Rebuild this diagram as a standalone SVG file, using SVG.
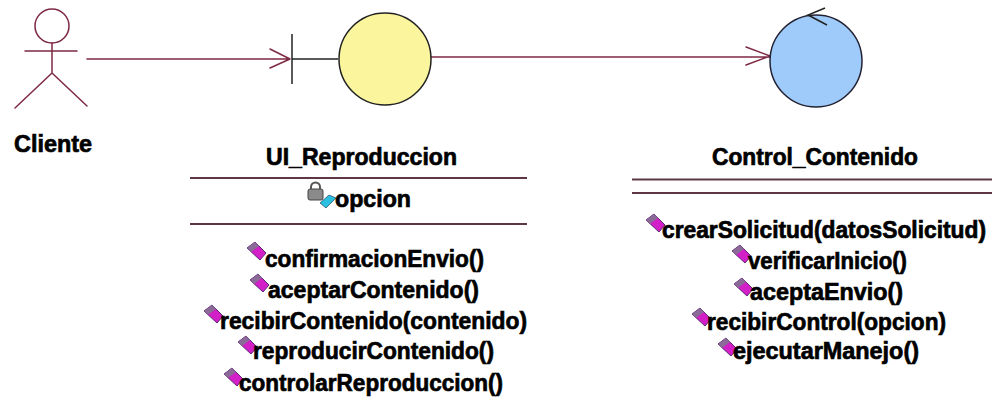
<svg xmlns="http://www.w3.org/2000/svg" width="993" height="400" viewBox="0 0 993 400">
<style>
.m{fill:none;stroke:#7d2a44;stroke-width:1.5;stroke-linecap:round;stroke-linejoin:round}
.k{fill:none;stroke:#222;stroke-width:1.5}
.sep{stroke:#5e3644;stroke-width:1.8;fill:none}
text{font-family:"Liberation Sans",Arial,sans-serif;font-weight:bold;fill:#000;stroke:#000;stroke-width:.7;font-size:24px}
</style>
<defs>
<g id="op"><polygon points="0,6 8,0 19,11 13,18" fill="#d21fc8" stroke="#5a2a76" stroke-width="1"/><polygon points="0,6 8,0 12,4 4,10" fill="#8a6a96"/></g>
</defs>
<rect width="993" height="400" fill="#fff"/>
<g id="connectors">
<path class="m" d="M87 59H290M270 49L290 59L270 68"/>
<path class="k" d="M292 59H338"/>
<path class="m" d="M430 57H770M746 47L770 56L746 65"/>
</g>
<g id="actor-cliente">
<circle class="m" cx="52" cy="26" r="17"/>
<path class="m" d="M25 51H77M52 43V73M52 73L15 108M52 73L87 106"/>
<text x="14" y="152" textLength="78" lengthAdjust="spacingAndGlyphs">Cliente</text>
</g>
<g id="ui-reproduccion">
<path class="k" d="M292 34V84"/>
<circle cx="385" cy="59" r="46" fill="#fbf69e" stroke="#222" stroke-width="1.5"/>
<text x="266" y="165" textLength="191" lengthAdjust="spacingAndGlyphs">UI_Reproduccion</text>
<path class="sep" d="M190 178H527M190 224H527"/>
<g id="lock-icon">
<rect x="308" y="189" width="15" height="11" rx="2" fill="#8a8a8a" stroke="#444"/>
<path d="M311 189v-2a4.500 4.500 0 0 1 9 0v2" fill="none" stroke="#555" stroke-width="2"/>
<polygon points="320,203 329,195 336,198 326,208" fill="#2bbfe0" stroke="#246" stroke-width=".7"/>
</g>
<text x="335" y="207" textLength="76" lengthAdjust="spacingAndGlyphs">opcion</text>
<use href="#op" x="247" y="242"/>
<text x="265" y="267" textLength="219" lengthAdjust="spacingAndGlyphs">confirmacionEnvio()</text>
<use href="#op" x="250" y="274"/>
<text x="268" y="298" textLength="211" lengthAdjust="spacingAndGlyphs">aceptarContenido()</text>
<use href="#op" x="204" y="305"/>
<text x="220" y="329" textLength="307" lengthAdjust="spacingAndGlyphs">recibirContenido(contenido)</text>
<use href="#op" x="238" y="336"/>
<text x="253" y="359" textLength="241" lengthAdjust="spacingAndGlyphs">reproducirContenido()</text>
<use href="#op" x="224" y="368"/>
<text x="239" y="391" textLength="264" lengthAdjust="spacingAndGlyphs">controlarReproduccion()</text>
</g>
<g id="control-contenido">
<circle cx="816" cy="61" r="46" fill="#9fcbfa" stroke="#223" stroke-width="1.5"/>
<path class="k" d="M825 8L808 15L827 25"/>
<text x="712" y="165" textLength="206" lengthAdjust="spacingAndGlyphs">Control_Contenido</text>
<path class="sep" d="M632 179.500H992M632 193H992"/>
<use href="#op" x="646" y="214"/>
<text x="662" y="238" font-size="23" style="font-size:23px" textLength="324" lengthAdjust="spacingAndGlyphs">crearSolicitud(datosSolicitud)</text>
<use href="#op" x="732" y="245"/>
<text x="748" y="269" textLength="159" lengthAdjust="spacingAndGlyphs">verificarInicio()</text>
<use href="#op" x="734" y="278"/>
<text x="750" y="300" textLength="153" lengthAdjust="spacingAndGlyphs">aceptaEnvio()</text>
<use href="#op" x="692" y="308"/>
<text x="707" y="330" textLength="239" lengthAdjust="spacingAndGlyphs">recibirControl(opcion)</text>
<use href="#op" x="718" y="338"/>
<text x="733" y="359" textLength="186" lengthAdjust="spacingAndGlyphs">ejecutarManejo()</text>
</g>
</svg>
